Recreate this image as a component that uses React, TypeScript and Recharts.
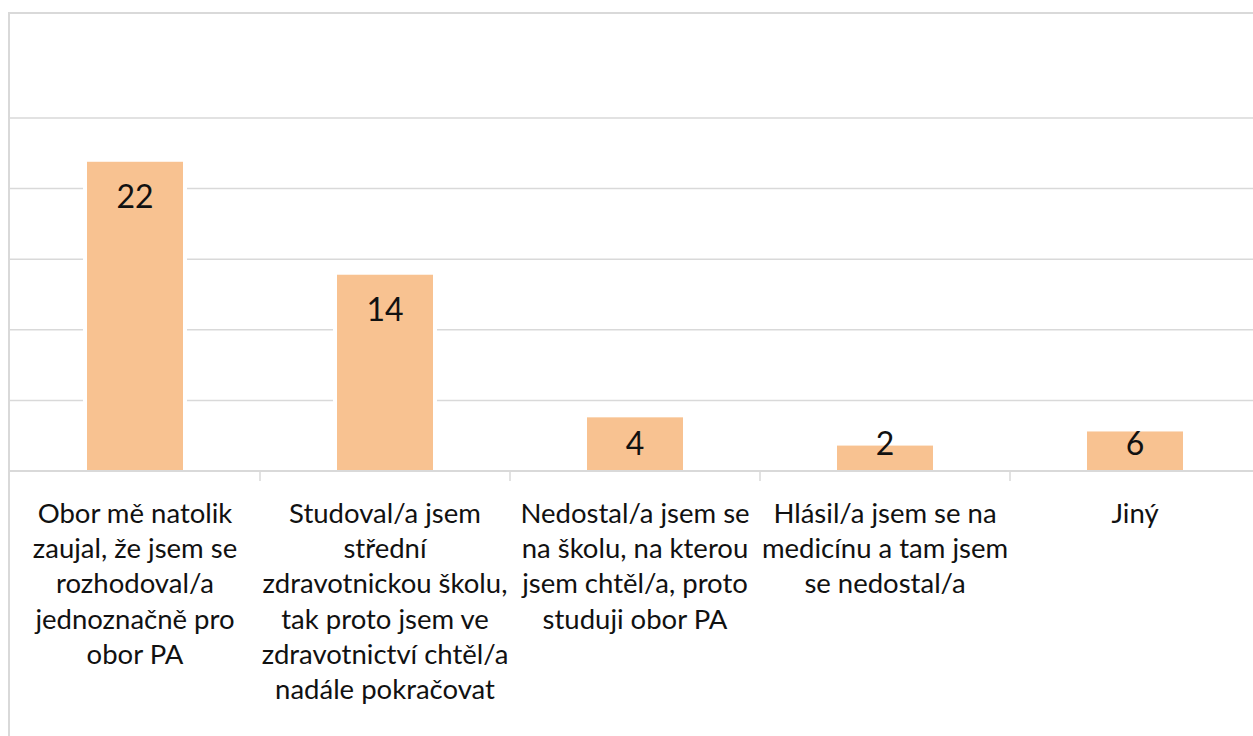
import { Bar, BarChart, CartesianGrid, LabelList, XAxis, YAxis } from "recharts";

const categories = [
  "Obor mě natolik zaujal, že jsem se rozhodoval/a jednoznačně pro obor PA",
  "Studoval/a jsem střední zdravotnickou školu, tak proto jsem ve zdravotnictví chtěl/a nadále pokračovat",
  "Nedostal/a jsem se na školu, na kterou jsem chtěl/a, proto studuji obor PA",
  "Hlásil/a jsem se na medicínu a tam jsem se nedostal/a",
  "Jiný",
];

// tick label lines, as wrapped in the source
const categoryLines = [
  ["Obor mě natolik", "zaujal, že jsem se", "rozhodoval/a", "jednoznačně pro", "obor PA"],
  ["Studoval/a jsem", "střední", "zdravotnickou školu,", "tak proto jsem ve", "zdravotnictví chtěl/a", "nadále pokračovat"],
  ["Nedostal/a jsem se", "na školu, na kterou", "jsem chtěl/a, proto", "studuji obor PA"],
  ["Hlásil/a jsem se na", "medicínu a tam jsem", "se nedostal/a"],
  ["Jiný"],
];

// bar heights as drawn, and the data labels printed on them
const values = [21.9, 13.9, 3.8, 1.8, 2.8];
const valueLabels = ["22", "14", "4", "2", "6"];

const yTicks = [0, 5, 10, 15, 20, 25];

const BAR_COLOR = "#F8C291";
const GRID_COLOR = "#d9d9d9";
const CHART_W = 1260;
const PLOT_LEFT = 10;
const BAND = (CHART_W - PLOT_LEFT) / categories.length;

const chartData = categories.map((name, i) => ({ name, value: values[i] }));

function BarShape(props: any) {
  const { x, y, width, height } = props;
  return (
    <g>
      <rect x={x - 4} y={y - 4} width={width + 8} height={height + 4} fill="#ffffff" />
      <rect x={x} y={y} width={width} height={height} fill={BAR_COLOR} />
    </g>
  );
}

function CategoryTick(props: any) {
  const { x, y, index } = props;
  const lines = categoryLines[index] ?? [];
  const edge = x + BAND / 2;
  return (
    <g>
      {index < categories.length - 1 && (
        <line x1={edge} y1={y} x2={edge} y2={y + 10} stroke={GRID_COLOR} strokeWidth={1.5} />
      )}
      <text textAnchor="middle" fill="#111" fontSize={27.5} fontFamily="Lato, sans-serif">
        {lines.map((line, i) => (
          <tspan key={i} x={x} y={y + 52 + i * 35.2}>
            {line}
          </tspan>
        ))}
      </text>
    </g>
  );
}

function ValueLabel(props: any) {
  const { x, y, width, height, index } = props;
  const cy = Math.min(y + 34, y + height - 29);
  return (
    <text
      x={x + width / 2}
      y={cy}
      textAnchor="middle"
      dominantBaseline="central"
      fill="#111"
      fontSize={32}
      fontFamily="Lato, sans-serif"
    >
      {valueLabels[index]}
    </text>
  );
}

export default function App() {
  return (
    <div
      style={{
        position: "fixed",
        left: 0,
        top: 0,
        width: 1253,
        height: 736,
        overflow: "hidden",
        background: "#fff",
        fontFamily: "Lato, sans-serif",
      }}
    >
      <div
        style={{
          position: "absolute",
          left: 8,
          top: 12,
          width: 1300,
          height: 800,
          borderLeft: `2px solid ${GRID_COLOR}`,
          borderTop: `2px solid ${GRID_COLOR}`,
        }}
      />
      <div style={{ position: "absolute", left: 0, top: 0 }}>
        <BarChart
          width={CHART_W}
          height={736}
          data={chartData}
          margin={{ top: 118, right: 0, bottom: 0, left: PLOT_LEFT }}
        >
          <CartesianGrid vertical={false} stroke={GRID_COLOR} strokeWidth={1.5} />
          <YAxis hide domain={[0, 25]} ticks={yTicks} />
          <XAxis
            dataKey="name"
            height={265}
            axisLine={{ stroke: GRID_COLOR, strokeWidth: 2 }}
            tickLine={false}
            tickSize={0}
            tickMargin={0}
            interval={0}
            tick={<CategoryTick />}
          />
          <Bar dataKey="value" barSize={96} isAnimationActive={false} shape={<BarShape />}>
            <LabelList dataKey="value" content={<ValueLabel />} />
          </Bar>
        </BarChart>
      </div>
    </div>
  );
}
